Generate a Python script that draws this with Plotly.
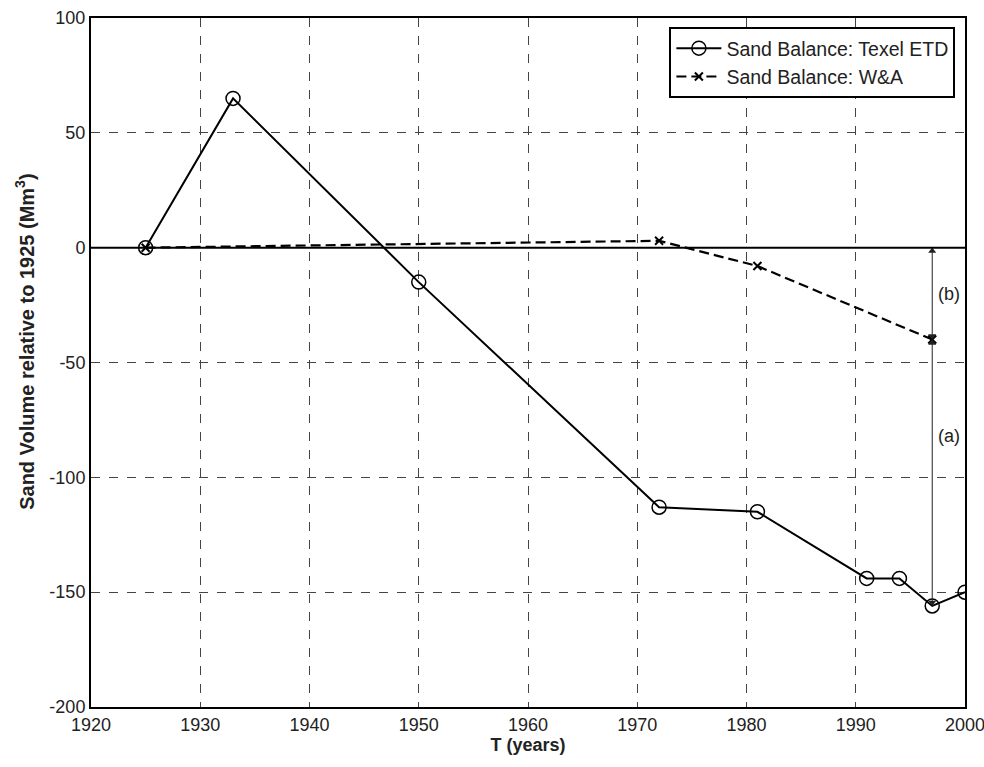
import plotly.graph_objects as go

texel_years = [1925, 1933, 1950, 1972, 1981, 1991, 1994, 1997, 2000]
texel_vals = [0, 65, -15, -113, -115, -144, -144, -156, -150]
wa_years = [1925, 1972, 1981, 1997]
wa_vals = [0, 3, -8, -40]
x_ticks = [1920, 1930, 1940, 1950, 1960, 1970, 1980, 1990, 2000]
y_ticks = [-200, -150, -100, -50, 0, 50, 100]

tick_font = "Liberation Sans, Arial, sans-serif"
title_font = "Liberation Sans Narrow, Liberation Sans, Arial, sans-serif"

fig = go.Figure()
fig.add_trace(go.Scatter(
    x=texel_years, y=texel_vals, mode="lines+markers",
    name="Sand Balance: Texel ETD",
    line=dict(color="black", width=2),
    marker=dict(symbol="circle-open", size=14, color="black", line=dict(width=1.5)),
))
fig.add_trace(go.Scatter(
    x=wa_years, y=wa_vals, mode="lines+markers",
    name="Sand Balance: W&A",
    line=dict(color="black", width=2.2, dash="10px,5px"),
    marker=dict(symbol="x-thin-open", size=8, color="black", line=dict(width=2)),
))

# zero line
fig.add_shape(type="line", xref="paper", x0=0, x1=1, yref="y", y0=0, y1=0,
              line=dict(color="black", width=2))

x_arrow = wa_years[-1]
y_b_top = 0
y_mid = wa_vals[-1]
y_a_bot = texel_vals[7]

for (y0, y1) in [(y_b_top, y_mid), (y_mid, y_a_bot)]:
    fig.add_trace(go.Scatter(
        x=[x_arrow, x_arrow], y=[y0 - 1.5, y1 + 1.5], mode="lines+markers",
        line=dict(color="#222", width=1),
        marker=dict(symbol=["triangle-up", "triangle-down"], size=7, color="#222"),
        showlegend=False, hoverinfo="skip",
    ))

fig.add_annotation(x=x_arrow + 0.3, y=-20, text="(b)", showarrow=False,
                   xanchor="left", font=dict(size=18, color="#222", family=tick_font))
fig.add_annotation(x=x_arrow + 0.3, y=-82, text="(a)", showarrow=False,
                   xanchor="left", font=dict(size=18, color="#222", family=tick_font))

# y-axis title as annotation (slightly above centre, as in reference)
fig.add_annotation(xref="paper", yref="paper", x=0, xshift=-66, y=0.53,
                   text="<b>Sand Volume relative to 1925 (Mm<sup>3</sup>)</b>",
                   textangle=-90, showarrow=False, xanchor="center", yanchor="middle",
                   font=dict(size=20, color="#222", family=title_font))

axis_common = dict(
    showgrid=True, gridcolor="#444", griddash="dash", gridwidth=1,
    showline=True, linecolor="black", linewidth=2, mirror=True,
    ticks="", zeroline=False, ticklabeloverflow="allow",
    tickfont=dict(size=18, color="#222", family=tick_font),
)

fig.update_xaxes(range=[1920, 2000], tickvals=x_ticks, ticktext=[str(t) for t in x_ticks],
                 title=dict(text="<b>T (years)</b>", standoff=0,
                            font=dict(size=18, color="#222", family=title_font)),
                 **axis_common)
fig.update_yaxes(range=[-200, 100], tickvals=y_ticks, ticktext=[str(t) for t in y_ticks],
                 **axis_common)

fig.update_layout(
    width=984, height=767,
    margin=dict(l=91, r=19, t=18, b=60, autoexpand=False),
    plot_bgcolor="white", paper_bgcolor="white",
    showlegend=True,
    legend=dict(x=0.989, y=0.987, xanchor="right", yanchor="top",
                bgcolor="white", bordercolor="black", borderwidth=2,
                font=dict(size=19.5, color="#222", family=tick_font),
                tracegroupgap=0, itemwidth=45),
    font=dict(family=tick_font),
)

fig.write_html("out.html", config={"displayModeBar": False},
               post_script="document.body.style.margin='0px';document.body.style.overflow='hidden';")
